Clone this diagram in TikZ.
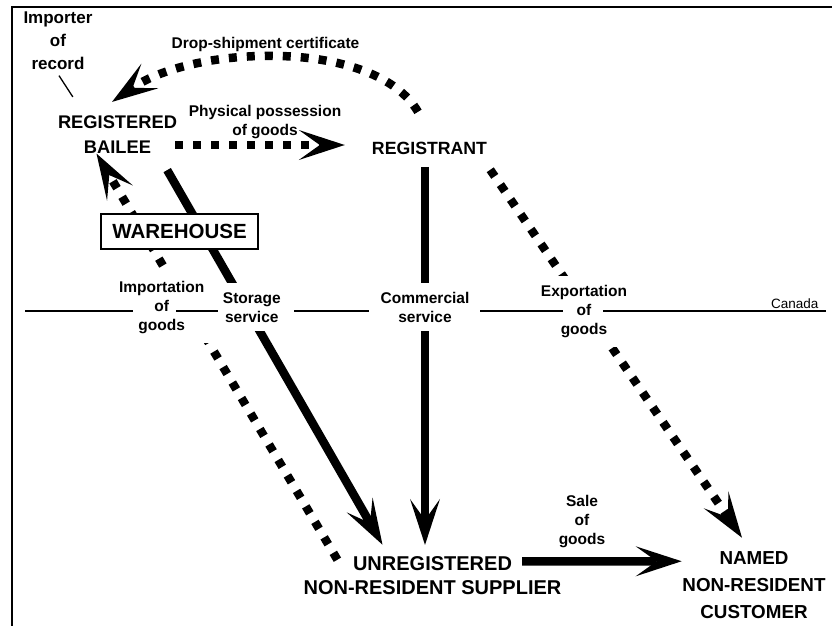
\documentclass[tikz,border=0pt]{standalone}
\usepackage{fontspec}
\setmainfont{Liberation Sans}
\usetikzlibrary{arrows.meta}

\tikzset{
  party/.style={font=\bfseries\fontsize{18.3}{25}\selectfont, align=center, inner sep=2pt},
  note/.style={font=\bfseries\fontsize{15.5}{19}\selectfont, align=center, inner sep=2pt},
  crossing/.style={note, fill=white, inner sep=9pt},
  box/.style={draw, line width=2pt, fill=white, inner sep=0pt,
    font=\bfseries\fontsize{20.5}{24}\selectfont, minimum width=157pt, minimum height=35pt},
  flow/.style={line width=8.5pt, -{Stealth[length=46pt,width=30pt,inset=21pt,line width=0pt]}},
  dotflow/.style={flow, dash pattern=on 8pt off 10pt},
  border/.style={line width=2pt}
}

\begin{document}
\begin{tikzpicture}[x=1pt,y=-1pt]
    \useasboundingbox (0,0) rectangle (832,626);
    % Frame
    \draw[border] (832,7) -- (12,7) -- (12,626);
    % Parties
    \node[party] (bailee) at (117.5,134.5) {REGISTERED\\BAILEE};
    \node[party, font=\bfseries\fontsize{17.7}{25}\selectfont] (registrant) at (429.5,148.3) {REGISTRANT};
    \node[party, font=\bfseries\fontsize{20}{24}\selectfont] (supplier) at (432.5,576) {UNREGISTERED\\NON-RESIDENT SUPPLIER};
    \node[party, font=\bfseries\fontsize{18.8}{27}\selectfont] (customer) at (754,584.8) {NAMED\\NON-RESIDENT\\CUSTOMER};
    \node[note, font=\bfseries\fontsize{17}{23}\selectfont] (importer) at (58,41) {Importer\\of\\record};
    % Flows
    \draw[line width=1.3pt] ([shift={(1,3.5)}]importer.south) -- ([shift={(17,-16.5)}]bailee.north west);
    \draw[dotflow] ([shift={(-11.5,-28)}]registrant.north) .. controls (375,38) and (195,45) .. ([shift={(-5.5,-11.5)}]bailee.north);
    \draw[dotflow] ([shift={(-4,10.5)}]bailee.east) -- ([shift={(-25,-3.3)}]registrant.west);
    \draw[flow] ([shift={(-12,14.5)}]bailee.south east) -- ([shift={(-50,-10)}]supplier.north);
    \draw[dotflow] ([shift={(36,5)}]supplier.north west) -- ([shift={(-21,-2)}]bailee.south);
    \draw[flow] ([shift={(-4.5,10)}]registrant.south) -- ([shift={(-7.5,-9.8)}]supplier.north);
    \draw[dotflow] ([shift={(1,13)}]registrant.south east) -- ([shift={(-12,-11.3)}]customer.north);
    \draw[flow] ([shift={(89.5,6.7)}]supplier.north) -- ([shift={(1.4,12.2)}]customer.north west);
    % Labels
    \node[note, anchor=base] (dropcert) at (265.5,48.3) {Drop-shipment certificate};
    \node[note] (possession) at (265,122.4) {Physical possession\\of goods};
    \node[crossing] (importation) at (161.7,307.4) {Importation\\of\\goods};
    \node[crossing] (storage) at (251.8,307.3) {Storage\\service};
    \node[crossing] (commercial) at (425,307.3) {Commercial\\service};
    \node[crossing] (exportation) at (584,311.5) {Exportation\\of\\goods};
    \node[note] (sale) at (582,521.5) {Sale\\of\\goods};
    \node[box] (warehouse) at (179.5,231.5) {WAREHOUSE};
    % Canada border
    \node[font=\fontsize{13.5}{16}\selectfont, anchor=base east] (canada) at (822,308) {Canada};
    \foreach \a/\b in {25/133, 176/218, 294/369, 480/563, 603/826}
        \draw[line width=1.2pt] (\a,311) -- (\b,311);
\end{tikzpicture}
\end{document}
